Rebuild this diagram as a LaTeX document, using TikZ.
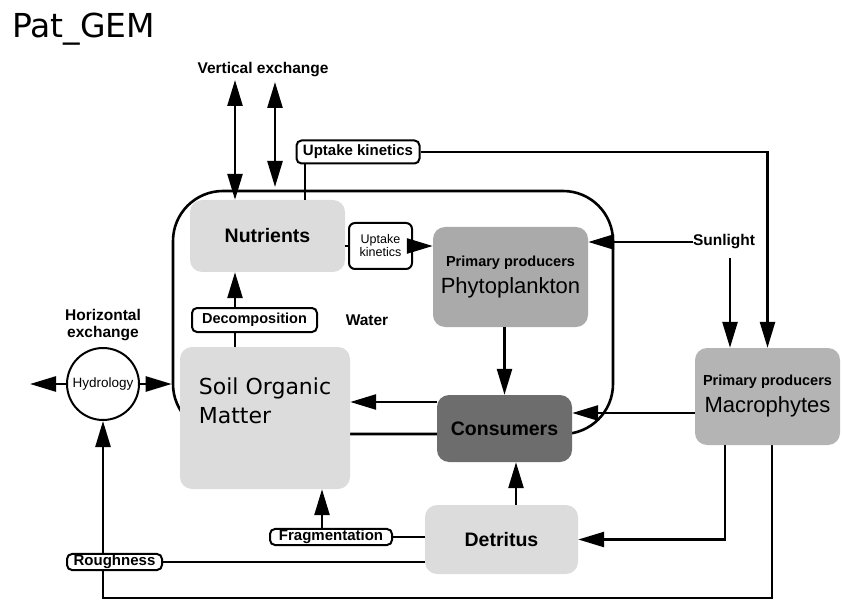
\documentclass[tikz,border=0pt]{standalone}
\usepackage{fontspec}
\setmainfont{Liberation Sans}
\newfontfamily\gemtitlefont{DejaVu Sans}
\usepackage{xcolor}
\usetikzlibrary{arrows.meta,positioning,calc,backgrounds}
\definecolor{gemLight}{HTML}{DCDCDC}
\definecolor{gemMid}{HTML}{AAAAAA}
\definecolor{gemMacro}{HTML}{B4B4B4}
\definecolor{gemDark}{HTML}{6D6D6D}
\tikzset{
  pool box/.style={rounded corners=12pt,inner sep=0pt,align=center,
    font=\fontsize{19.5}{22}\selectfont\bfseries},
  producer box/.style={pool box,font=\fontsize{22}{24}\selectfont},
  process tag/.style={draw,line width=2pt,fill=white,rounded corners=5pt,inner sep=1pt,
    font=\fontsize{15}{16}\selectfont\bfseries},
  plain label/.style={align=center,inner sep=0pt,font=\fontsize{15.5}{17}\selectfont\bfseries},
  flow line/.style={line width=2.6pt},
  flow arrow/.style={flow line,-{Triangle[length=26pt,width=15pt]}},
  swap arrow/.style={flow line,{Triangle[length=26pt,width=15pt]}-{Triangle[length=26pt,width=15pt]}}
}

\begin{document}
\begin{tikzpicture}[x=1pt,y=-1pt]
\useasboundingbox (0,0) rectangle (842,601);
\node[anchor=base west,inner sep=0pt,font=\gemtitlefont\fontsize{33}{36}\selectfont] (title) at (12,38) {Pat\_GEM};
% water compartment
\node[draw,flow line,rounded corners=50pt,minimum width=440pt,minimum height=243pt] (water) at (393,312.5) {};
% pools
\node[pool box,fill=gemLight,minimum width=155pt,minimum height=72pt] (nut) at (267.5,236) {Nutrients};
\node[producer box,fill=gemMid,minimum width=155pt,minimum height=100pt] (phy) at (510.5,277)
  {{\fontsize{14.5}{16}\selectfont\bfseries Primary producers}\\[3pt]Phytoplankton};
\node[pool box,fill=gemDark,minimum width=135pt,minimum height=67pt] (cons) at (504.5,428.5) {Consumers};
\node[pool box,fill=gemLight,minimum width=170pt,minimum height=142pt,align=left,
  font=\gemtitlefont\fontsize{22}{29}\selectfont] (som) at (265,418) {Soil Organic\\Matter\\[6pt]};
\node[pool box,fill=gemLight,minimum width=153pt,minimum height=69pt] (det) at (501.5,539.5) {Detritus};
\node[producer box,fill=gemMacro,minimum width=145pt,minimum height=97pt] (macro) at (767.5,396.5)
  {{\fontsize{14.5}{16}\selectfont\bfseries Primary producers}\\[3pt]Macrophytes};
\node[draw,circle,line width=2pt,minimum size=72pt,inner sep=0pt,font=\fontsize{13.5}{14}\selectfont] (hyd) at (103,384) {Hydrology};
% labels
\node[plain label] (hex) at (103,325) {Horizontal\\exchange};
\node[plain label] (vex) at (263,70) {Vertical exchange};
\node[plain label] (wlab) at (367,320) {Water};
\node[plain label] (sun) at (724,242) {Sunlight};
% process tags
\node[process tag,minimum width=123pt,minimum height=23pt] (uk1) at (358,152) {Uptake kinetics};
\node[process tag,rounded corners=6pt,minimum width=63pt,minimum height=46pt,align=center,
  font=\fontsize{12.5}{13}\selectfont] (uk2) at (380.5,246) {Uptake\\kinetics};
\node[process tag,minimum width=125pt,minimum height=24pt,font=\fontsize{14.5}{15}\selectfont\bfseries] (dec) at (254.5,320) {Decomposition};
\node[process tag,minimum width=122pt,minimum height=16pt] (frag) at (331,537) {Fragmentation};
\node[process tag,minimum width=95pt,minimum height=15pt] (rough) at (114.5,562) {Roughness};
% helper coordinates
\coordinate (ve1) at (235,80);
\coordinate (ve2) at (275,82);
\coordinate (ve2end) at (275,187);
\coordinate (ukx) at (305,0);
\coordinate (sunx) at (730,0);
\coordinate (decx) at (235,0);
\coordinate (fragx) at (322,0);
\coordinate (detx) at (516,0);
\coordinate (macx) at (725,0);
\coordinate (loopx) at (772,598);
\coordinate (hleft) at (30,0);
% connectors
\draw[swap arrow] (ve1) -- (ve1 |- nut.north);
\draw[swap arrow] (ve2) -- (ve2end);
\draw[flow line] (ukx |- uk1.south) -- (ukx |- nut.north);
\draw[flow arrow] (uk1.east) -| (macro.north);
\draw[flow line] (uk2.west -| nut.east) -- (uk2.west);
\draw[flow arrow] (uk2.east) -- (uk2.east -| phy.west);
\draw[flow arrow] (sun.west) -- (sun.west -| phy.east);
\draw[flow arrow,shorten <=9pt] (sunx |- sun.south) -- (sunx |- macro.north);
\draw[flow arrow] (cons.north |- phy.south) -- (cons.north);
\draw[flow arrow] ([yshift=-16.5pt]macro.west) -- ([yshift=-16.5pt]macro.west -| cons.east);
\draw[flow arrow] ([yshift=26.5pt]cons.west) -- ([yshift=26.5pt]cons.west -| som.east);
\draw[flow line] (decx |- som.north) -- (decx |- dec.south);
\draw[flow arrow] (decx |- dec.north) -- (decx |- nut.south);
\draw[flow line] (frag.east) -- (frag.east -| det.west);
\draw[flow arrow] (fragx |- frag.north) -- (fragx |- som.south);
\draw[flow arrow] (detx |- det.north) -- (detx |- cons.south);
\draw[flow arrow] (macx |- macro.south) -- (macx |- det.east) -- (det.east);
\draw[flow line] (rough.east) -- (rough.east -| det.west);
\draw[flow arrow] (hyd.west) -- (hleft |- hyd.west);
\draw[flow arrow] (hyd.east) -- (hyd.east -| water.west);
\begin{scope}[on background layer]
\draw[flow arrow] (loopx |- macro.south) -- (loopx) -- (hyd.south |- loopx) -- (hyd.south);
\end{scope}
\end{tikzpicture}
\end{document}
